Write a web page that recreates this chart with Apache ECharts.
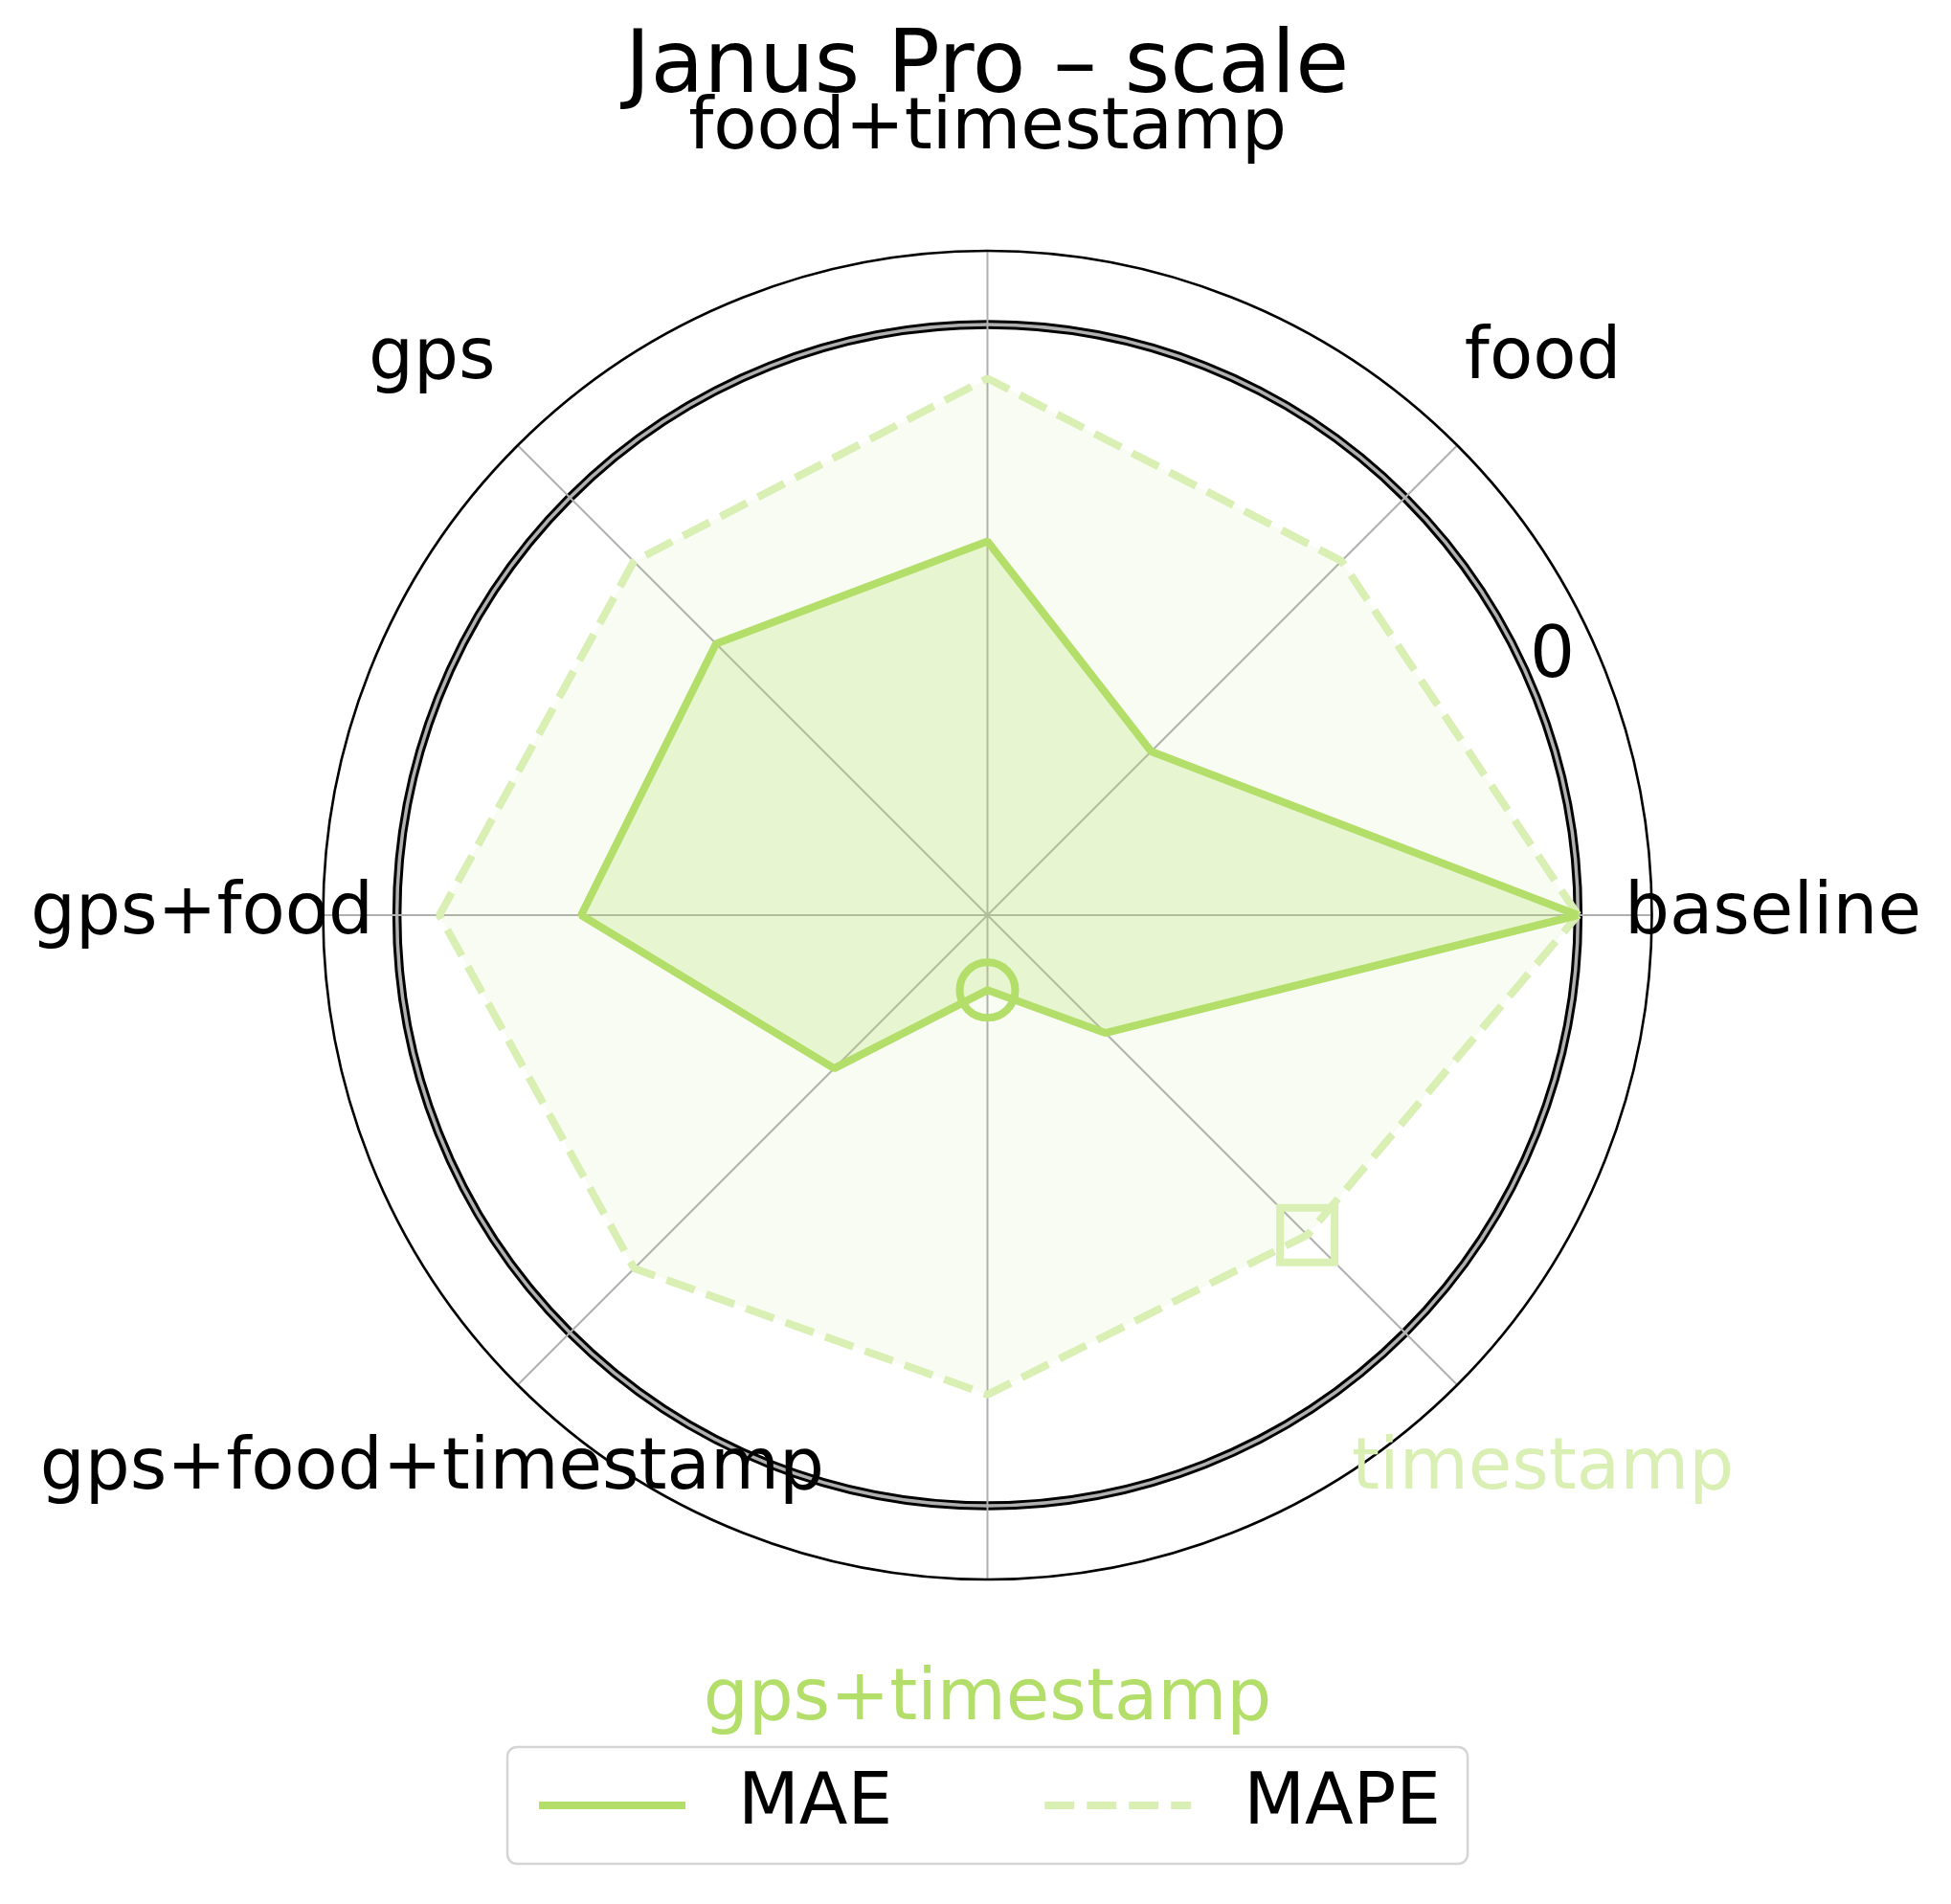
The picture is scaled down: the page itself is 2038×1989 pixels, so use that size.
<!DOCTYPE html>
<html>
<head>
<meta charset="utf-8">
<title>Janus Pro – scale</title>
<script src="https://cdn.jsdelivr.net/npm/echarts@6/dist/echarts.min.js"></script>
<style>
  html, body { margin: 0; padding: 0; background: #fff; }
  #chart { width: 2038px; height: 1989px; }
</style>
</head>
<body>
<div id="chart"></div>
<script>
// categories, counter-clockwise starting at the right
const categories = ['baseline', 'food', 'food+timestamp', 'gps', 'gps+food', 'gps+food+timestamp', 'gps+timestamp', 'timestamp']
// change relative to baseline (0 = baseline ring)
const maeValues = [0, -0.608, -0.367, -0.35, -0.312, -0.633, -0.873, -0.718]
const mapeValues = [0, -0.152, -0.091, -0.153, -0.072, -0.154, -0.188, -0.234]
const radialTicks = [0]

const MAE_COLOR = '#b3de69'
const MAPE_COLOR = '#d9efb4'
const FONT = 'DejaVu Sans'
const CENTER = [1031.5, 956]
const RADIUS = 694
const R_MIN = -1
const R_MAX = 0.125
const R_STEP = 0.125
const LABEL_R = 0.33 // category names sit outside the outer ring
const RLABEL_ANGLE = 22.5

function argMin(arr) {
  let best = 0
  arr.forEach((v, i) => { if (v < arr[best]) best = i })
  return best
}
const bestMae = argMin(maeValues)
const bestMape = argMin(mapeValues)

// closed loop, with a hollow marker on the best (lowest) point
function loop(values, best, symbol, size, color) {
  const pts = values.map((v, i) => {
    const item = {value: [v, categories[i]]}
    if (i === best) {
      item.symbol = symbol
      item.symbolSize = size
      item.itemStyle = {color: 'rgba(255,255,255,0)', borderColor: color, borderWidth: 8}
    }
    return item
  })
  pts.push({value: [values[0], categories[0]]})
  return pts
}

// only the rings at the radial ticks get a colour
const nTicks = Math.round((R_MAX - R_MIN) / R_STEP) + 1
function ringColors(c) {
  return Array.from({length: nTicks}, (_, i) => {
    const v = +(R_MIN + i * R_STEP).toFixed(6)
    return radialTicks.includes(v) ? c : 'rgba(0,0,0,0)'
  })
}

const radiusBase = {
  type: 'value',
  min: R_MIN,
  max: R_MAX,
  interval: R_STEP,
  axisLine: {show: false},
  axisTick: {show: false},
  axisLabel: {show: false},
}

const plainLabel = {
  show: true,
  position: 'inside',
  formatter: '{b}',
  fontSize: 74,
  fontFamily: FONT,
  opacity: 1,
  textBorderWidth: 0,
  textBorderColor: 'transparent',
}

// invisible anchor points that only carry a label
const anchor = {
  type: 'scatter',
  coordinateSystem: 'polar',
  z: 5,
  clip: false,
  silent: true,
  symbol: 'circle',
  symbolSize: 1,
  itemStyle: {color: 'rgba(0,0,0,0)', opacity: 1},
}

const chart = echarts.init(document.getElementById('chart'))

const option = {
  animation: false,
  backgroundColor: '#fff',
  textStyle: {fontFamily: FONT},
  title: {
    text: 'Janus Pro – scale',
    left: 1031,
    top: 27,
    padding: 0,
    textAlign: 'center',
    textStyle: {fontSize: 91, fontWeight: 'normal', color: '#000', fontFamily: FONT},
  },
  legend: {
    data: ['MAE', 'MAPE'],
    left: 530,
    top: 1825,
    itemWidth: 153,
    itemHeight: 20,
    itemGap: 155,
    padding: [24, 28, 24, 29],
    borderColor: '#d5d5d5',
    borderWidth: 2.5,
    borderRadius: 10,
    backgroundColor: '#fff',
    selectedMode: false,
    itemStyle: {opacity: 0},
    lineStyle: {width: 8},
    textStyle: {fontSize: 74, fontFamily: FONT, color: '#000', lineHeight: 73, padding: [0, 0, 0, 50]},
  },
  polar: [
    {center: CENTER, radius: RADIUS},
    {center: CENTER, radius: RADIUS},
  ],
  angleAxis: [
    {
      polarIndex: 0,
      type: 'category',
      data: categories,
      // half a band back, so the first category sits at 0 degrees
      startAngle: -180 / categories.length,
      clockwise: false,
      boundaryGap: true,
      z: 1,
      axisLine: {show: true, lineStyle: {color: '#000', width: 2.6}},
      axisTick: {show: false, alignWithLabel: true},
      axisLabel: {show: false},
      splitLine: {show: true, lineStyle: {color: '#b0b0b0', width: 2}},
    },
    {
      polarIndex: 1,
      type: 'value',
      min: 0,
      max: 360,
      startAngle: 0,
      clockwise: false,
      show: false,
    },
  ],
  radiusAxis: [
    Object.assign({}, radiusBase, {
      polarIndex: 0,
      z: 0,
      splitLine: {show: true, lineStyle: {color: ringColors('#000'), width: 9.5}},
    }),
    Object.assign({}, radiusBase, {
      polarIndex: 1,
      z: 0,
      splitLine: {show: true, lineStyle: {color: ringColors('#b0b0b0'), width: 3.5}},
    }),
  ],
  series: [
    {
      name: 'MAE',
      type: 'line',
      coordinateSystem: 'polar',
      polarIndex: 0,
      z: 3,
      symbol: 'none',
      silent: true,
      data: loop(maeValues, bestMae, 'circle', 58, MAE_COLOR),
      itemStyle: {color: MAE_COLOR},
      lineStyle: {color: MAE_COLOR, width: 8},
      areaStyle: {color: MAE_COLOR, opacity: 0.25, origin: 'start'},
    },
    {
      name: 'MAPE',
      type: 'line',
      coordinateSystem: 'polar',
      polarIndex: 0,
      z: 2,
      symbol: 'none',
      silent: true,
      data: loop(mapeValues, bestMape, 'rect', 57, MAPE_COLOR),
      itemStyle: {color: MAPE_COLOR},
      lineStyle: {color: MAPE_COLOR, width: 8, type: [31, 13]},
      areaStyle: {color: MAE_COLOR, opacity: 0.08, origin: 'start'},
    },
    Object.assign({}, anchor, {
      // category names, coloured when a category is best for a metric
      polarIndex: 0,
      data: categories.map((c, i) => ({
        name: c,
        value: [LABEL_R, c],
        label: {color: i === bestMae ? MAE_COLOR : (i === bestMape ? MAPE_COLOR : '#000')},
      })),
      label: plainLabel,
    }),
    Object.assign({}, anchor, {
      // radial tick labels
      polarIndex: 1,
      data: radialTicks.map(t => ({name: String(t), value: [t, RLABEL_ANGLE]})),
      label: Object.assign({}, plainLabel, {color: '#000', offset: [20, -32]}),
    }),
  ],
}

option && chart.setOption(option)
</script>
</body>
</html>
